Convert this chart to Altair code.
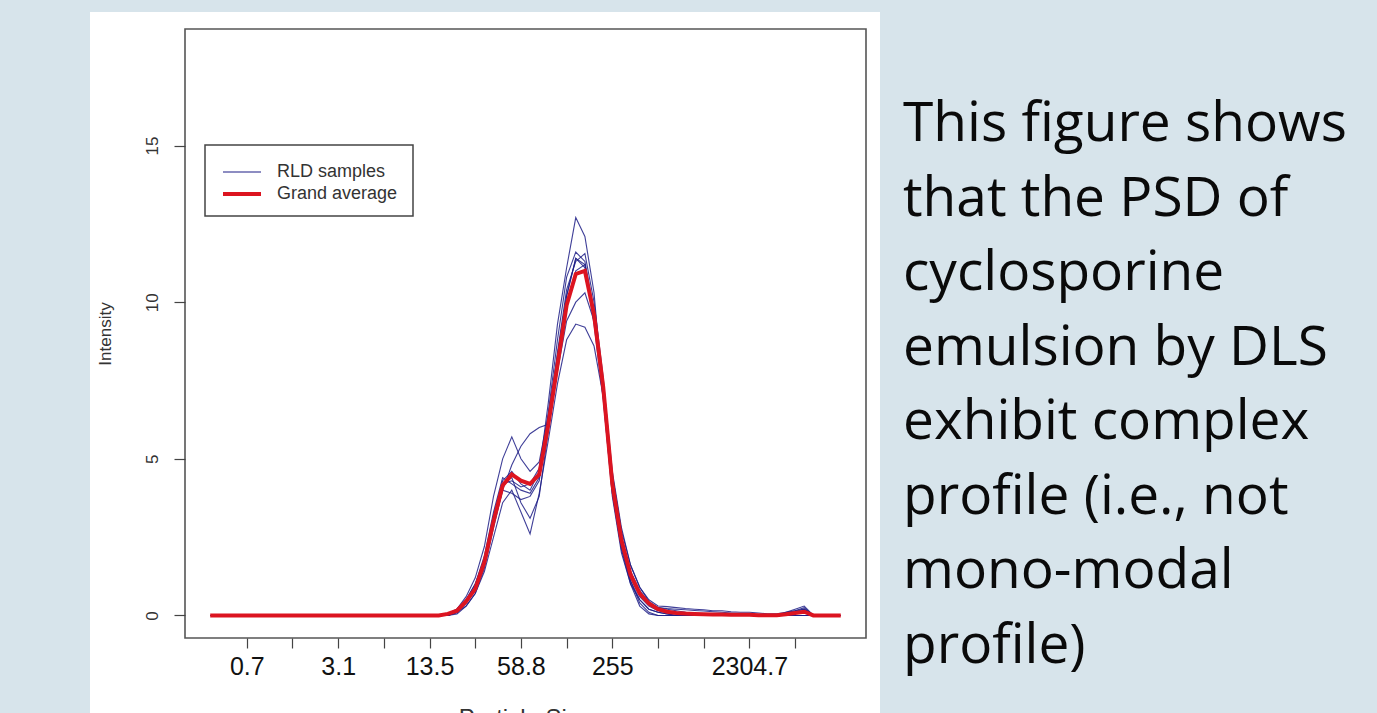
import altair as alt
import pandas as pd

# ---------------- data (bin index -> intensity) ----------------
# bin 1 .. bin 25 are all zero, so the series start with bin 1 then bins 26..70
bins = [1, 26, 27, 28, 29, 30, 31, 32, 33, 34, 35, 36, 37,
        38, 39, 40, 41, 42, 43, 44, 45, 46, 47, 48, 49,
        50, 51, 52, 53, 54, 55, 56, 57, 58, 59, 60, 61,
        62, 63, 64, 65, 66, 67, 68, 69, 70]

s1 = [0, 0, 0, 0.1, 0.4, 0.9, 1.8, 3.2, 4.3, 4.6, 4.2, 4.0, 4.6,
      6.8, 9.3, 11.1, 12.7, 12.1, 10.3, 7.0, 3.8, 2.0, 1.0, 0.5, 0.2,
      0.1, 0.05, 0, 0, 0, 0, 0, 0, 0, 0, 0, 0,
      0, 0, 0.08, 0.15, 0.25, 0, 0, 0, 0]
s2 = [0, 0, 0.05, 0.2, 0.5, 1.0, 1.9, 3.3, 4.4, 4.2, 4.0, 3.9, 4.4,
      6.5, 8.8, 10.8, 11.6, 11.3, 9.7, 7.4, 4.3, 2.4, 1.2, 0.6, 0.3,
      0.15, 0.1, 0.05, 0, 0, 0, 0, 0, 0, 0, 0, 0,
      0, 0, 0, 0, 0, 0, 0, 0, 0]
s3 = [0, 0, 0, 0.1, 0.3, 0.7, 1.5, 2.8, 4.0, 3.9, 3.7, 3.8, 4.3,
      6.2, 8.4, 10.4, 11.3, 11.55, 10.0, 7.6, 4.4, 2.5, 1.4, 0.8, 0.4,
      0.25, 0.22, 0.2, 0.18, 0.16, 0.14, 0.12, 0.1, 0.08, 0.06, 0.04, 0.02,
      0, 0, 0, 0, 0, 0, 0, 0, 0]
s4 = [0, 0, 0.05, 0.2, 0.6, 1.2, 2.2, 3.8, 5.0, 5.7, 5.0, 4.6, 4.9,
      6.4, 8.3, 10.2, 11.4, 11.2, 9.5, 7.2, 4.1, 2.2, 1.1, 0.5, 0.2,
      0.1, 0.05, 0, 0, 0, 0, 0, 0, 0, 0, 0, 0,
      0, 0, 0.05, 0.12, 0.2, 0, 0, 0, 0]
s5 = [0, 0, 0, 0.1, 0.4, 0.8, 1.6, 2.9, 4.0, 4.8, 5.4, 5.8, 6.0,
      6.1, 7.8, 9.4, 10.0, 10.3, 9.4, 7.5, 4.6, 2.8, 1.6, 0.9, 0.45,
      0.25, 0.2, 0.15, 0.1, 0.05, 0, 0, 0, 0, 0, 0, 0,
      0, 0, 0.1, 0.2, 0.3, 0, 0, 0, 0]
s6 = [0, 0, 0, 0.05, 0.3, 0.7, 1.4, 2.5, 3.6, 4.0, 3.3, 2.6, 3.9,
      5.6, 7.4, 8.8, 9.3, 9.2, 8.6, 7.0, 4.5, 2.7, 1.6, 0.9, 0.5,
      0.3, 0.28, 0.25, 0.22, 0.2, 0.18, 0.15, 0.15, 0.12, 0.1, 0.1, 0.08,
      0.05, 0.05, 0.1, 0.15, 0.2, 0, 0, 0, 0]
s7 = [0, 0, 0, 0.1, 0.4, 0.9, 1.7, 3.0, 4.2, 4.4, 3.6, 3.1, 3.8,
      5.9, 8.1, 10.2, 11.4, 11.1, 9.3, 6.9, 3.9, 2.1, 1.0, 0.3, 0.05,
      0, 0, 0, 0, 0, 0, 0, 0, 0, 0, 0, 0,
      0, 0, 0, 0, 0, 0, 0, 0, 0]
s8 = [0, 0, 0.05, 0.2, 0.5, 1.0, 1.8, 3.1, 4.2, 4.3, 4.1, 4.2, 4.7,
      6.3, 8.1, 9.9, 11.0, 11.2, 9.6, 7.3, 4.0, 2.2, 1.1, 0.4, 0.1,
      0, 0, 0, 0, 0, 0, 0, 0, 0, 0, 0, 0,
      0, 0, 0, 0, 0, 0, 0, 0, 0]
grand_avg = [0, 0, 0.05, 0.15, 0.45, 0.85, 1.7, 3.0, 4.15, 4.5, 4.3, 4.2, 4.5,
             6.1, 8.0, 9.9, 10.9, 11.0, 9.6, 7.3, 4.2, 2.4, 1.3, 0.7, 0.38,
             0.2, 0.12, 0.08, 0.06, 0.05, 0.04, 0.03, 0.03, 0.02, 0.02, 0.02, 0.01,
             0.01, 0.01, 0.04, 0.08, 0.12, 0, 0, 0, 0]

samples = {"S1": s1, "S2": s2, "S3": s3, "S4": s4,
           "S5": s5, "S6": s6, "S7": s7, "S8": s8}

tick_positions = [5, 10, 15, 20, 25, 30, 35, 40, 45, 50, 55, 60, 65]
tick_label_pos = [5, 15, 25, 35, 45, 60]
tick_label_txt = ["0.7", "3.1", "13.5", "58.8", "255", "2304.7"]
y_ticks = [0, 5, 10, 15]

legend_labels = ["RLD samples", "Grand average"]
side_text = ["This figure shows", "that the PSD of", "cyclosporine",
             "emulsion by DLS", "exhibit complex", "profile (i.e., not",
             "mono-modal", "profile)"]

# ---------------- tables ----------------
rows = []
for name, vals in samples.items():
    for b, v in zip(bins, vals):
        rows.append({"bin": b, "value": v, "sample": name})
df_s = pd.DataFrame(rows)
df_a = pd.DataFrame({"bin": bins, "value": grand_avg})
one = pd.DataFrame({"k": [0]})

# ---------------- layout ----------------
W, H = 681, 609
LEFT, TOP = 185, 29
FONT = "Liberation Sans"
NAVY = "#1d1d86"
RED = "#dc1420"

expr = " : ".join(f"datum.value == {p} ? '{t}'" for p, t in zip(tick_label_pos, tick_label_txt)) + " : ''"

x_enc = alt.X("bin:Q",
              scale=alt.Scale(domain=[-1.76, 72.76], nice=False, zero=False),
              axis=alt.Axis(values=tick_positions, labelExpr=expr, grid=False, domain=False,
                            tickSize=10, tickColor="#444", tickWidth=1.2,
                            labelFontSize=25, labelFont=FONT, labelColor="#111",
                            labelPadding=6, labelOverlap=False, labelFlush=False,
                            title=None, zindex=1))
y_enc = alt.Y("value:Q",
              scale=alt.Scale(domain=[-0.72, 18.72], nice=False, zero=False),
              axis=alt.Axis(values=y_ticks, grid=False, domain=False,
                            tickSize=11, tickColor="#444", tickWidth=1.2,
                            labelAngle=270, labelAlign="center", labelBaseline="middle",
                            labelPadding=22, labelFontSize=17, labelFont=FONT,
                            labelColor="#333",
                            title="Intensity", titleFont=FONT, titleFontSize=17,
                            titleFontWeight="normal", titleColor="#333",
                            titleAngle=270, titleAlign="center", titleBaseline="middle",
                            titleX=-80, titleY=304.5, zindex=1))

panel = alt.Chart(one).mark_rect(color="white").encode(
    x=alt.value(90 - LEFT), x2=alt.value(880 - LEFT),
    y=alt.value(12 - TOP), y2=alt.value(760 - TOP))

lines = alt.Chart(df_s).mark_line(color=NAVY, strokeWidth=1.1, opacity=0.85).encode(
    x=x_enc, y=y_enc, detail="sample:N", order="bin:Q")

avg = alt.Chart(df_a).mark_line(color=RED, strokeWidth=4).encode(
    x=x_enc, y=y_enc, order="bin:Q")

box = alt.Chart(one).mark_rect(fillOpacity=0, stroke="#555", strokeWidth=1.6).encode(
    x=alt.value(0), x2=alt.value(W), y=alt.value(0), y2=alt.value(H))

leg_box = alt.Chart(one).mark_rect(fill="white", stroke="#444", strokeWidth=1.5).encode(
    x=alt.value(205 - LEFT), x2=alt.value(413 - LEFT),
    y=alt.value(145 - TOP), y2=alt.value(216 - TOP))
leg_l1 = alt.Chart(one).mark_rule(color=NAVY, strokeWidth=1.2).encode(
    x=alt.value(223 - LEFT), x2=alt.value(261 - LEFT), y=alt.value(172 - TOP))
leg_l2 = alt.Chart(one).mark_rule(color=RED, strokeWidth=4).encode(
    x=alt.value(223 - LEFT), x2=alt.value(261 - LEFT), y=alt.value(194 - TOP))
leg_t1 = alt.Chart(one).mark_text(align="left", baseline="middle", fontSize=18,
                                  font=FONT, color="#333").encode(
    x=alt.value(277 - LEFT), y=alt.value(172 - TOP), text=alt.value(legend_labels[0]))
leg_t2 = alt.Chart(one).mark_text(align="left", baseline="middle", fontSize=18,
                                  font=FONT, color="#333").encode(
    x=alt.value(277 - LEFT), y=alt.value(194 - TOP), text=alt.value(legend_labels[1]))

side = alt.Chart(one).mark_text(align="left", baseline="alphabetic", fontSize=55,
                                font="Open Sans", color="#0a0a0a",
                                lineHeight=74.5).encode(
    x=alt.value(903 - LEFT), y=alt.value(141 - TOP), text=alt.value(side_text))

xtitle = alt.Chart(one).mark_text(align="center", baseline="top", fontSize=24,
                                  font=FONT, color="#333").encode(
    x=alt.value(525.5 - LEFT), y=alt.value(707 - TOP), text=alt.value("Particle Size"))

chart = alt.layer(panel, lines, avg, box, leg_box, leg_l1, leg_l2, leg_t1, leg_t2,
                  side, xtitle).properties(
    width=W, height=H,
    padding={"left": LEFT, "top": TOP, "right": 1377 - LEFT - W, "bottom": 713 - TOP - H},
    autosize=alt.AutoSizeParams(type="none"),
    background="#d7e4eb",
).configure_view(strokeWidth=0)

chart.save("out.html", embed_options={"renderer": "svg", "actions": False})
